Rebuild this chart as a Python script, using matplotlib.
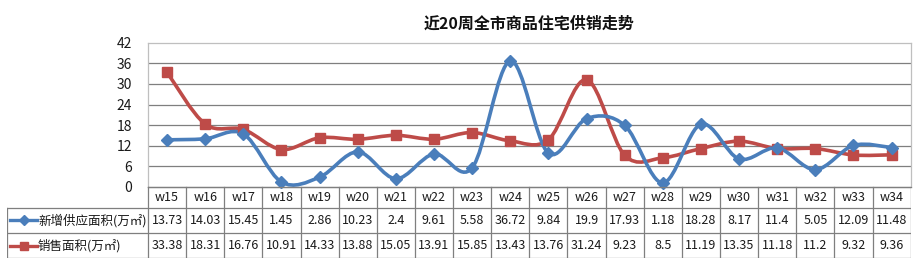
import numpy as np
import matplotlib
matplotlib.use('Agg')
import matplotlib.pyplot as plt
from matplotlib.path import Path
from matplotlib.patches import PathPatch
from matplotlib.lines import Line2D

plt.rcParams['font.family'] = ['Noto Sans CJK SC', 'DejaVu Sans']

weeks = ['w%d' % w for w in range(15, 35)]
supply = [13.73, 14.03, 15.45, 1.45, 2.86, 10.23, 2.4, 9.61, 5.58, 36.72,
          9.84, 19.9, 17.93, 1.18, 18.28, 8.17, 11.4, 5.05, 12.09, 11.48]
sales = [33.38, 18.31, 16.76, 10.91, 14.33, 13.88, 15.05, 13.91, 15.85, 13.43,
         13.76, 31.24, 9.23, 8.5, 11.19, 13.35, 11.18, 11.2, 9.32, 9.36]
series_names = ['新增供应面积(万㎡)', '销售面积(万㎡)']
title = '近20周全市商品住宅供销走势'
yticks = [0, 6, 12, 18, 24, 30, 36, 42]

blue = '#4A7EBB'
red = '#BE4B48'
grid_c = '#7F7F7F'
border_c = '#BFBFBF'
txt_c = '#1A1A1A'

W, H = 920, 266
fig = plt.figure(figsize=(W / 100, H / 100), dpi=100)

# plot area in pixels
px_l, px_r, px_t, px_b = 148, 910.7, 42.7, 187


def smooth_path(ys):
    # Excel-like smoothed line drawn as cubic bezier segments
    xs = np.arange(len(ys), dtype=float)
    pts = np.column_stack([xs, np.asarray(ys, dtype=float)])
    n = len(pts)
    verts = [pts[0]]
    codes = [Path.MOVETO]
    for i in range(n - 1):
        p0 = pts[i - 1] if i > 0 else pts[i]
        p1 = pts[i]
        p2 = pts[i + 1]
        p3 = pts[i + 2] if i + 2 < n else pts[i + 1]
        c1 = p1 + (p2 - p0) / 6.0
        c2 = p2 - (p3 - p1) / 6.0
        verts += [c1, c2, p2]
        codes += [Path.CURVE4] * 3
    return Path(verts, codes)


ax = fig.add_axes([px_l / W, 1 - px_b / H, (px_r - px_l) / W, (px_b - px_t) / H])
ax.set_xlim(-0.5, len(weeks) - 0.5)
ax.set_ylim(0, 42)
ax.set_yticks(yticks)
ax.set_xticks([])
ax.tick_params(axis='y', length=0, pad=11.5, labelsize=10, labelcolor=txt_c)
for y in yticks[1:-1]:
    ax.axhline(y, color=grid_c, lw=0.9, zorder=1)
for s in ['top', 'right', 'left']:
    ax.spines[s].set_color(border_c)
    ax.spines[s].set_linewidth(0.9)
ax.spines['bottom'].set_color(grid_c)
ax.spines['bottom'].set_linewidth(0.9)

x = np.arange(len(weeks))
ax.add_patch(PathPatch(smooth_path(sales), fill=False, edgecolor=red, lw=2.6, zorder=3, capstyle='round'))
ax.add_patch(PathPatch(smooth_path(supply), fill=False, edgecolor=blue, lw=2.6, zorder=4, capstyle='round'))
ax.plot(x, sales, ls='none', marker='s', ms=6.5, color=red, zorder=5, clip_on=False)
ax.plot(x, supply, ls='none', marker='D', ms=6.5, color=blue, zorder=6, clip_on=False)

fig.text((px_l + px_r) / 2 / W, 1 - 24 / H, title, ha='center', va='center',
         fontsize=11.5, fontweight='bold', color='#111111')

# data table below the plot
tb_l, tb_b = 7, 258
rows_y = [187, 207.5, 233, 258]
ax_t = fig.add_axes([tb_l / W, 1 - tb_b / H, (px_r - tb_l) / W, (tb_b - px_t) / H])
ax_t.set_xlim(tb_l, px_r)
ax_t.set_ylim(tb_b, px_t)
ax_t.axis('off')
cw = (px_r - px_l) / len(weeks)
line_kw = dict(color='#7F7F7F', lw=0.9)
# horizontal lines
ax_t.plot([px_l, px_r], [rows_y[0], rows_y[0]], **line_kw)
for ry in rows_y[1:]:
    ax_t.plot([tb_l, px_r], [ry, ry], **line_kw)
# vertical lines
ax_t.plot([tb_l, tb_l], [rows_y[1], rows_y[3]], **line_kw)
for i in range(len(weeks) + 1):
    xx = px_l + i * cw
    ax_t.plot([xx, xx], [rows_y[0], rows_y[3]], **line_kw)

fs = 9
for i, wk in enumerate(weeks):
    cx = px_l + (i + 0.5) * cw
    ax_t.text(cx, (rows_y[0] + rows_y[1]) / 2, wk, ha='center', va='center', fontsize=fs, color=txt_c)
    ax_t.text(cx, (rows_y[1] + rows_y[2]) / 2, '%g' % supply[i], ha='center', va='center', fontsize=fs, color=txt_c)
    ax_t.text(cx, (rows_y[2] + rows_y[3]) / 2, '%g' % sales[i], ha='center', va='center', fontsize=fs, color=txt_c)

# legend keys in the label column
for k, (name, c, m) in enumerate(zip(series_names, [blue, red], ['D', 's'])):
    yy = (rows_y[k + 1] + rows_y[k + 2]) / 2
    ax_t.add_line(Line2D([10, 37], [yy, yy], color=c, lw=2.4))
    ax_t.plot([24], [yy], marker=m, ms=5.5, color=c)
    ax_t.text(38, yy, name, ha='left', va='center', fontsize=fs, color=txt_c)

fig.savefig('out.png', dpi=100, facecolor='white')
